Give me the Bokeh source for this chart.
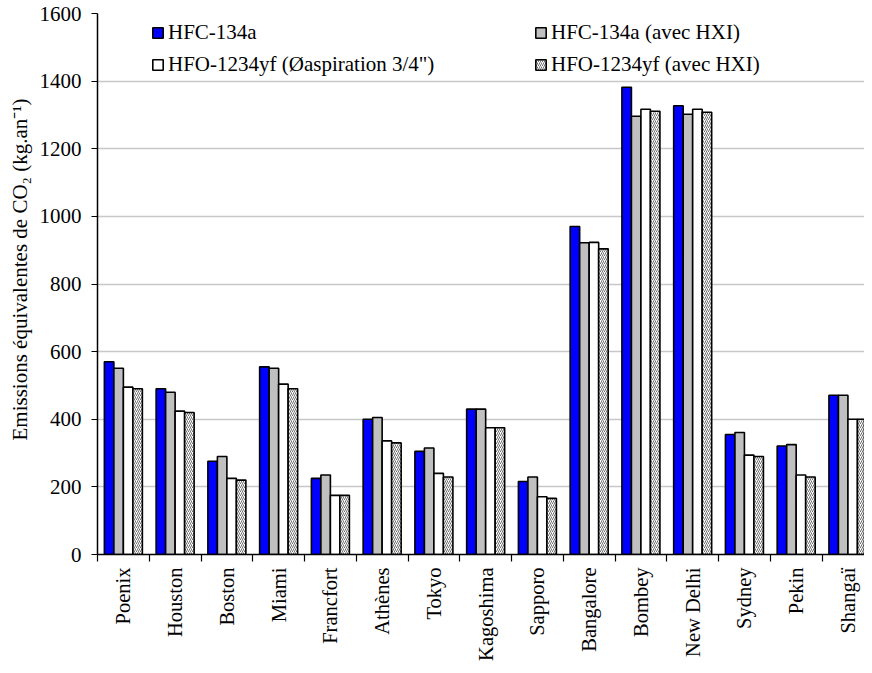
import math
from bokeh.plotting import figure
from bokeh.models import Range1d, FixedTicker, Legend, LegendItem, ColumnDataSource, Title
from bokeh.embed import file_html
from bokeh.resources import INLINE

cities = ["Poenix", "Houston", "Boston", "Miami", "Francfort", "Athènes", "Tokyo",
          "Kagoshima", "Sapporo", "Bangalore", "Bombey", "New Delhi", "Sydney", "Pekin", "Shangaï"]
hfc134a = [570, 490, 276, 555, 225, 400, 305, 430, 216, 970, 1382, 1327, 355, 321, 471]
hfc134a_hxi = [551, 480, 290, 551, 235, 405, 315, 430, 229, 922, 1296, 1302, 361, 325, 471]
hfo1234yf = [495, 424, 225, 504, 175, 336, 240, 375, 171, 923, 1317, 1317, 294, 235, 400]
hfo1234yf_hxi = [490, 420, 220, 490, 175, 330, 229, 375, 166, 904, 1311, 1308, 290, 229, 400]
series_names = ["HFC-134a", "HFC-134a (avec HXI)", 'HFO-1234yf (Øaspiration 3/4")', "HFO-1234yf (avec HXI)"]
y_ticks = [0, 200, 400, 600, 800, 1000, 1200, 1400, 1600]
y_title = "Emissions équivalentes de CO₂ (kg.an⁻¹)"

FONT = "Liberation Serif"
FS = "21px"
centers = [i + 0.5 for i in range(len(cities))]
bounds = list(range(len(cities) + 1))

p = figure(width=864, height=665, output_backend="svg", toolbar_location=None,
           x_range=Range1d(0, 14.82), y_range=Range1d(0, 1600),
           min_border_left=97, min_border_top=13, min_border_bottom=111, min_border_right=0)
p.outline_line_color = None
p.background_fill_color = "white"

bw = 0.1836
offsets = [-1.5 * bw, -0.5 * bw, 0.5 * bw, 1.5 * bw]
styles = [
    dict(fill_color="#0000FF"),
    dict(fill_color="#C0C0C0"),
    dict(fill_color="white"),
    dict(fill_color="white", hatch_pattern="/", hatch_scale=4, hatch_color="#707070", hatch_weight=1),
]
data = [hfc134a, hfc134a_hxi, hfo1234yf, hfo1234yf_hxi]
renderers = []
for vals, off, st in zip(data, offsets, styles):
    src = ColumnDataSource(dict(x=[c + off for c in centers], top=vals))
    r = p.vbar(x="x", top="top", bottom=0, width=bw, source=src,
               line_color="black", line_width=1.6, **st)
    renderers.append(r)

# x axis: tick marks between categories, names at the centres
p.xaxis.ticker = FixedTicker(ticks=centers, minor_ticks=bounds)
p.xaxis.major_label_overrides = {c: name for c, name in zip(centers, cities)}
p.xaxis.major_tick_out = 0
p.xaxis.major_tick_in = 0
p.xaxis.minor_tick_out = 7
p.xaxis.minor_tick_in = 0
p.xaxis.minor_tick_line_color = "black"
p.xaxis.minor_tick_line_width = 1.2
p.xaxis.major_label_orientation = math.pi / 2
p.xaxis.major_label_standoff = 6

p.yaxis.ticker = FixedTicker(ticks=y_ticks)
p.yaxis.major_tick_out = 6
p.yaxis.major_tick_in = 0
p.yaxis.minor_tick_line_color = None
p.yaxis.major_label_standoff = 10

for ax in (p.xaxis, p.yaxis):
    ax.axis_line_color = "black"
    ax.axis_line_width = 1.5
    ax.major_tick_line_color = "black"
    ax.major_tick_line_width = 1.2
    ax.major_label_text_font = FONT
    ax.major_label_text_color = "black"
p.yaxis.major_label_text_font_size = FS
p.xaxis.major_label_text_font_size = "20.5px"

p.add_layout(Title(text=y_title, align="right", offset=85, standoff=10,
                   text_font=FONT, text_font_size="21px", text_font_style="normal",
                   text_color="black"), "left")

p.xgrid.grid_line_color = None
p.ygrid.ticker = FixedTicker(ticks=y_ticks)
p.ygrid.grid_line_color = "#c8c8c8"
p.ygrid.grid_line_width = 1.3

def make_legend(items, loc):
    return Legend(items=items, location=loc, orientation="vertical",
                  border_line_color=None, background_fill_alpha=0,
                  padding=0, margin=0, spacing=7,
                  glyph_width=13, glyph_height=13, label_standoff=4,
                  label_text_font=FONT, label_text_font_size=FS, label_text_color="black")

lg1 = make_legend([LegendItem(label=series_names[0], renderers=[renderers[0]]),
                   LegendItem(label=series_names[2], renderers=[renderers[2]])], (54, 477))
lg2 = make_legend([LegendItem(label=series_names[1], renderers=[renderers[1]]),
                   LegendItem(label=series_names[3], renderers=[renderers[3]])], (437, 477))
p.add_layout(lg1)
p.add_layout(lg2)

open("out.html", "w").write(file_html(p, INLINE))
